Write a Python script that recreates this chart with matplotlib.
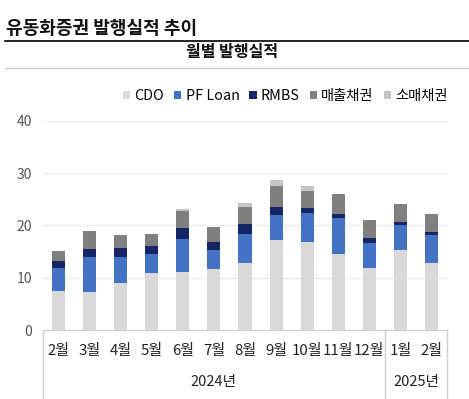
import numpy as np
import matplotlib.pyplot as plt
from matplotlib.lines import Line2D

plt.rcParams["font.family"] = ["Noto Sans CJK KR", "DejaVu Sans"]

months = ["2월", "3월", "4월", "5월", "6월", "7월", "8월", "9월", "10월", "11월", "12월", "1월", "2월"]
years = ["2024년", "2025년"]
year_spans = [(0, 10), (11, 12)]

cdo = [7.4, 7.2, 8.9, 10.9, 11.1, 11.6, 12.8, 17.2, 16.8, 14.6, 11.8, 15.3, 12.8]
pf_loan = [4.4, 6.7, 5.0, 3.7, 6.3, 3.7, 5.5, 4.8, 5.6, 6.8, 4.8, 4.7, 5.3]
rmbs = [1.5, 1.6, 1.8, 1.5, 2.1, 1.5, 2.0, 1.6, 1.0, 0.8, 1.0, 0.6, 0.6]
sales_recv = [1.9, 3.5, 2.4, 2.3, 3.3, 3.0, 3.3, 4.0, 3.2, 3.8, 3.4, 3.6, 3.5]
retail_recv = [0.0, 0.0, 0.0, 0.0, 0.3, 0.0, 0.7, 1.1, 0.9, 0.0, 0.0, 0.0, 0.0]

series = [
    ("CDO", cdo, "#d9d9d9"),
    ("PF Loan", pf_loan, "#4472c4"),
    ("RMBS", rmbs, "#172466"),
    ("매출채권", sales_recv, "#7f7f7f"),
    ("소매채권", retail_recv, "#c4c4c4"),
]

W, H = 469, 399
fig = plt.figure(figsize=(W / 100, H / 100), dpi=100)


def fx(px):
    return px / W


def fy(py):
    return 1 - py / H


# headers
fig.text(fx(6), fy(29), "유동화증권 발행실적 추이", fontsize=13, fontweight="bold",
         ha="left", va="center", color="#111111")
fig.add_artist(Line2D([fx(5), fx(469)], [fy(41), fy(41)], color="black", lw=1.2))
fig.text(fx(232), fy(52), "월별 발행실적", fontsize=11.5, fontweight="bold",
         ha="center", va="center", color="#111111")
fig.add_artist(Line2D([fx(5), fx(469)], [fy(68), fy(68)], color="#d0d0d0", lw=1.0))

ax = fig.add_axes([fx(43), fy(330), fx(447) - fx(43), fy(121) - fy(330)])
x = np.arange(len(months))
bottom = np.zeros(len(months))
for name, vals, col in series:
    ax.bar(x, vals, 0.42, bottom=bottom, color=col, label=name, zorder=3)
    bottom += np.array(vals)

ax.set_xlim(-0.5, len(months) - 0.5)
ax.set_ylim(0, 40)
ax.set_yticks([0, 10, 20, 30, 40])
ax.grid(axis="y", color="#ebebeb", lw=1.0, zorder=0)
for s in ["top", "right", "left"]:
    ax.spines[s].set_visible(False)
ax.spines["bottom"].set_color("#cfcfcf")
ax.tick_params(axis="y", length=0, labelsize=10, labelcolor="#555555", pad=8)
ax.set_xticks(x)
ax.set_xticklabels([])
ax.tick_params(axis="x", length=0)

# month and year labels, group separators
trans = ax.get_xaxis_transform()
for i, m in zip(x, months):
    ax.text(i, -0.099, m, transform=trans, ha="center", va="center",
            fontsize=10.8, color="#222222")
for yl, (a, b) in zip(years, year_spans):
    ax.text((a + b) / 2, -0.247, yl, transform=trans, ha="center", va="center",
            fontsize=10.5, color="#222222")
for xs in [-0.5, 10.5, 12.5]:
    ax.add_artist(Line2D([xs, xs], [0, -0.33], transform=trans, color="#cfcfcf",
                         lw=1.0, clip_on=False))

ax.legend(loc="lower center", bbox_to_anchor=(0.6, 1.06), ncol=5, frameon=False,
          fontsize=10.3, handlelength=0.5, handleheight=0.5, handletextpad=0.3,
          columnspacing=0.7, borderaxespad=0)

fig.savefig("out.png", dpi=100)
